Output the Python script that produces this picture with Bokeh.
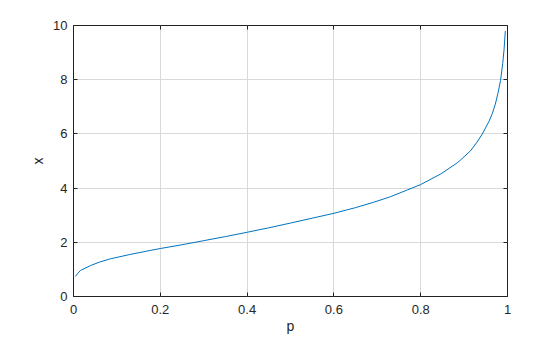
from bokeh.plotting import figure
from bokeh.models import LinearAxis, Range1d, FixedTicker
from bokeh.embed import file_html
from bokeh.resources import INLINE

# values
p_vals = [0.0046, 0.008, 0.016, 0.039, 0.06, 0.085, 0.13, 0.177, 0.2, 0.25, 0.3, 0.35,
          0.4, 0.45, 0.5, 0.55, 0.6, 0.631, 0.65, 0.692, 0.73, 0.769, 0.8, 0.846, 0.884,
          0.892, 0.915, 0.93, 0.942, 0.957, 0.965, 0.972, 0.978, 0.984, 0.989, 0.992, 0.995]
x_vals = [0.74, 0.82, 0.96, 1.14, 1.27, 1.39, 1.55, 1.70, 1.77, 1.91, 2.06, 2.21,
          2.37, 2.535, 2.71, 2.89, 3.07, 3.2, 3.28, 3.48, 3.68, 3.93, 4.13, 4.52, 4.93,
          5.04, 5.38, 5.7, 6.0, 6.45, 6.75, 7.1, 7.5, 7.97, 8.6, 9.1, 9.8]

x_ticks = [0, 0.2, 0.4, 0.6, 0.8, 1]
x_tick_labels = {0: "0", 0.2: "0.2", 0.4: "0.4", 0.6: "0.6", 0.8: "0.8", 1: "1"}
y_ticks = [0, 2, 4, 6, 8, 10]

FONT = "Liberation Sans"

p = figure(width=560, height=337, output_backend="svg", toolbar_location=None,
           x_range=Range1d(0, 1), y_range=Range1d(0, 10),
           min_border_left=73, min_border_right=53, min_border_top=25, min_border_bottom=41)
p.background_fill_color = "white"
p.border_fill_color = "white"
p.outline_line_color = "#222222"
p.outline_line_width = 1

p.line(p_vals, x_vals, line_color="#0072bd", line_width=1)

for ax in (p.xaxis[0], p.yaxis[0]):
    ax.axis_line_color = None
    ax.major_tick_in = 4
    ax.major_tick_out = 0
    ax.major_tick_line_color = "#222222"
    ax.minor_tick_line_color = None
    ax.major_label_text_font = FONT
    ax.major_label_text_font_size = "13px"
    ax.major_label_text_color = "#262626"
    ax.axis_label_text_font = FONT
    ax.axis_label_text_font_size = "14px"
    ax.axis_label_text_font_style = "normal"
    ax.axis_label_text_color = "#262626"

p.xaxis[0].ticker = FixedTicker(ticks=x_ticks)
p.xaxis[0].major_label_overrides = x_tick_labels
p.yaxis[0].ticker = FixedTicker(ticks=y_ticks)
p.xaxis[0].axis_label = "p"
p.yaxis[0].axis_label = "x"
p.xaxis[0].major_label_standoff = 8
p.yaxis[0].major_label_standoff = 6
p.xaxis[0].axis_label_standoff = 1
p.yaxis[0].axis_label_standoff = 4

for loc, ticks in (("right", y_ticks), ("above", x_ticks)):
    ax = LinearAxis(ticker=FixedTicker(ticks=ticks))
    ax.axis_line_color = None
    ax.major_tick_in = 4
    ax.major_tick_out = 0
    ax.major_tick_line_color = "#222222"
    ax.minor_tick_line_color = None
    ax.major_label_text_font_size = "0px"
    ax.major_label_text_alpha = 0
    p.add_layout(ax, loc)

p.xgrid.ticker = FixedTicker(ticks=x_ticks)
p.ygrid.ticker = FixedTicker(ticks=y_ticks)
p.grid.grid_line_color = "#d9d9d9"
p.grid.grid_line_width = 1

open("out.html", "w").write(file_html(p, INLINE))
